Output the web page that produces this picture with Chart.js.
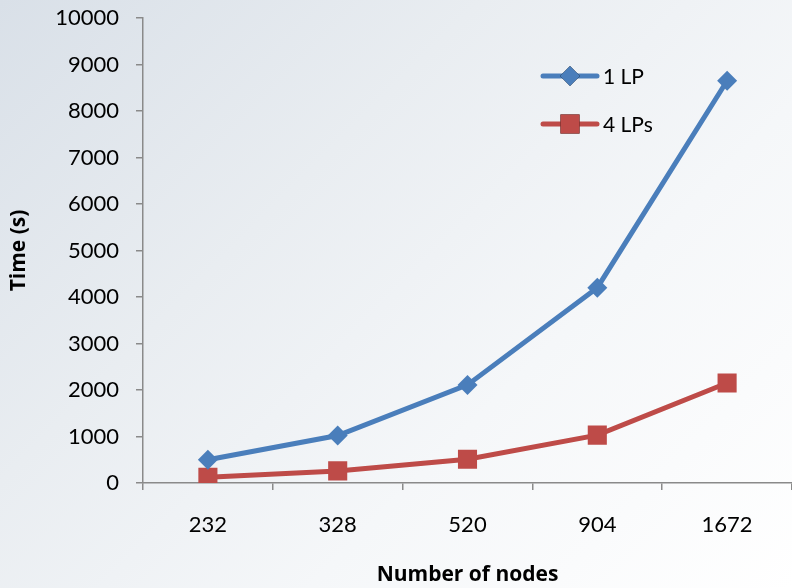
<!DOCTYPE html>
<html>
<head>
<meta charset="utf-8">
<script src="https://cdn.jsdelivr.net/npm/chart.js@4/dist/chart.umd.min.js"></script>
<style>
  html, body { margin: 0; padding: 0; }
  body {
    width: 792px; height: 588px; overflow: hidden;
    background: linear-gradient(135deg, #d9e0e8 0%, #e9edf1 35%, #f5f7f9 65%, #ffffff 100%);
  }
  #wrap { position: relative; width: 792px; height: 588px; }
</style>
</head>
<body>
<div id="wrap"><canvas id="c" width="792" height="588"></canvas></div>
<script>
// Node counts on the x axis
const nodeCounts = ['232', '328', '520', '904', '1672'];
// Run time in seconds
const timeOneLP = [500, 1020, 2110, 4200, 8650];
const timeFourLPs = [125, 260, 510, 1030, 2150];
// Value axis range
const yMin = 0, yMax = 10000, yStep = 1000;

const FONT = 'Lato, "Open Sans", sans-serif';
const TITLE_FONT = '"Open Sans", Lato, sans-serif';
const BLUE = '#4a7ebb';
const RED = '#be4b48';
const AXIS = '#8a8a8a';

// Legend drawn inside the plot, with a line sample and marker per series
const insideLegend = {
  id: 'insideLegend',
  afterDatasetsDraw(chart) {
    const ctx = chart.ctx;
    const area = chart.chartArea;
    const x0 = area.left + 400, x1 = area.left + 454, xm = (x0 + x1) / 2;
    const rows = [area.top + 58, area.top + 106];
    ctx.save();
    chart.data.datasets.forEach((ds, i) => {
      const y = rows[i];
      ctx.strokeStyle = ds.borderColor;
      ctx.lineWidth = 5;
      ctx.lineCap = 'round';
      ctx.beginPath(); ctx.moveTo(x0, y); ctx.lineTo(x1, y); ctx.stroke();
      Chart.helpers.drawPoint(ctx, {
        pointStyle: ds.pointStyle, radius: ds.pointRadius, borderWidth: 0
      }, xm, y);
      ctx.fillStyle = ds.backgroundColor;
      ctx.fill();
      ctx.fillStyle = '#000';
      ctx.font = '21px ' + FONT;
      ctx.textAlign = 'left';
      ctx.textBaseline = 'middle';
      ctx.fillText(ds.label, x1 + 6, y + 1);
    });
    ctx.restore();
  }
};

new Chart(document.getElementById('c'), {
  type: 'line',
  data: {
    labels: nodeCounts,
    datasets: [
      {
        label: '1 LP', data: timeOneLP,
        borderColor: BLUE, backgroundColor: BLUE, borderWidth: 5,
        pointStyle: 'rectRot', pointRadius: 10, pointBorderWidth: 0,
        pointBackgroundColor: BLUE, tension: 0
      },
      {
        label: '4 LPs', data: timeFourLPs,
        borderColor: RED, backgroundColor: RED, borderWidth: 5,
        pointStyle: 'rect', pointRadius: 13.5, pointBorderWidth: 0,
        pointBackgroundColor: RED, tension: 0
      }
    ]
  },
  options: {
    responsive: false,
    animation: false,
    layout: { autoPadding: false, padding: { top: 18, right: 0, bottom: 0, left: 0 } },
    plugins: { legend: { display: false }, tooltip: { enabled: false } },
    scales: {
      x: {
        offset: true,
        grid: { offset: true, drawOnChartArea: false, drawTicks: true, tickLength: 7, color: AXIS, lineWidth: 1.5 },
        border: { display: true, color: AXIS, width: 1.5 },
        ticks: { color: '#000', font: { family: FONT, size: 22 }, padding: 22, maxRotation: 0 },
        title: { display: true, text: 'Number of nodes', color: '#000',
                 font: { family: TITLE_FONT, size: 21, weight: 'bold' }, padding: { top: 0, bottom: 0 } },
        afterFit(s) { s.height = 105; s.paddingLeft = 0; s.paddingRight = 0; }
      },
      y: {
        min: yMin, max: yMax,
        grid: { drawOnChartArea: false, drawTicks: true, tickLength: 7, color: AXIS, lineWidth: 1.5 },
        border: { display: true, color: AXIS, width: 1.5 },
        ticks: {
          stepSize: yStep, color: '#000', font: { family: FONT, size: 22 }, padding: 17,
          callback: (v) => String(v)
        },
        title: { display: true, text: 'Time (s)', color: '#000',
                 font: { family: TITLE_FONT, size: 21, weight: 'bold' }, padding: { top: 6, bottom: 0 } },
        afterFit(s) { s.width = 143; s.paddingTop = 0; s.paddingBottom = 0; }
      }
    }
  },
  plugins: [insideLegend]
});
</script>
</body>
</html>
